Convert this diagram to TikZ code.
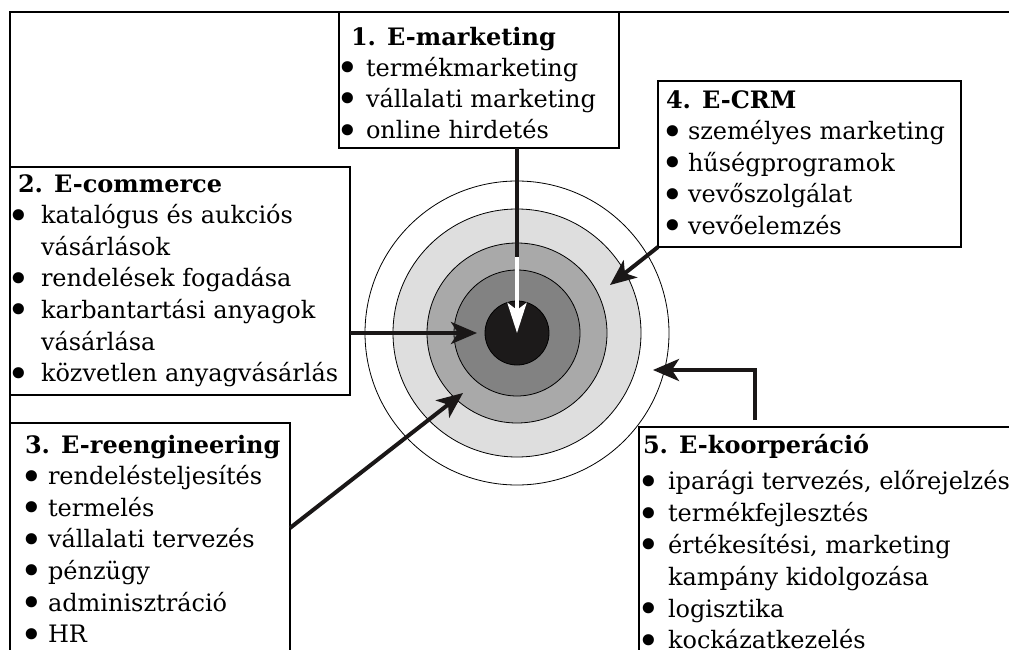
\documentclass[tikz,border=0pt]{standalone}
\usepackage{fontspec}
\usepackage{graphicx}
\setmainfont{DejaVu Serif}
\usetikzlibrary{arrows.meta}
\definecolor{arrowc}{HTML}{1A1717}
\definecolor{ringA}{HTML}{DEDEDE}
\definecolor{ringB}{HTML}{A9A9A9}
\definecolor{ringC}{HTML}{828282}
\definecolor{ringD}{HTML}{1C1A1A}
\newcommand\itm[1]{\makebox[#1][l]{\hspace*{-5pt}\raisebox{-5.5pt}{\scalebox{1.6}{•}}}}
\newcommand\fst{\rule{0pt}{20pt}}
\begin{document}
\begin{tikzpicture}[x=1pt,y=-1pt,
  box/.style={draw=black, line width=1.2pt, anchor=north west, inner sep=0pt, outer sep=0pt},
  txt/.style={anchor=north west, inner sep=0pt, outer sep=0pt, align=left, font=\fontsize{24}{31.6}\selectfont},
  ring/.style={circle, draw=black, line width=0.8pt, inner sep=0pt},
  arr/.style={line width=4pt, draw=arrowc, -{Stealth[length=26pt,width=22pt,inset=7pt]}},
  warr/.style={line width=4.5pt, draw=white, -{Stealth[length=30pt,width=19pt,inset=7pt]}},
]
\useasboundingbox (0,0) rectangle (1009,650);
% outer frame
\draw[line width=1.2pt] (1030,12) -- (10,12) -- (10,680);
% target rings
\node[ring, fill=white, minimum size=304pt] (c0) at (517,333) {};
\node[ring, fill=ringA, minimum size=248pt] (c1) at (c0) {};
\node[ring, fill=ringB, minimum size=180pt] (c2) at (c0) {};
\node[ring, fill=ringC, minimum size=126pt] (c3) at (c0) {};
\node[ring, fill=ringD, minimum size=64pt] (c4) at (c0) {};
% boxes
\node[box, fill=white, minimum width=280pt, minimum height=136pt] (b1) at (339,12) {};
\node[box, fill=white, minimum width=340pt, minimum height=228pt] (b2) at (10,167) {};
\node[box, fill=white, minimum width=280pt, minimum height=300pt] (b3) at (10,423) {};
\node[box, fill=white, minimum width=303pt, minimum height=166pt] (b4) at (658,81) {};
\node[box, fill=white, minimum width=420pt, minimum height=300pt] (b5) at (639,427) {};
% texts
\node[txt, font=\fontsize{24}{31.2}\selectfont] (t1) at (341,25) {\fst\hspace*{10pt}\textbf{1. E-marketing}\\
\itm{25pt}termékmarketing\\ \itm{25pt}vállalati marketing\\ \itm{25pt}online hirdetés};
\node[txt] (t2) at (12,172) {\fst\hspace*{6pt}\textbf{2. E-commerce}\\
\itm{29pt}katalógus és aukciós\\ \hspace*{29pt}vásárlások\\
\itm{29pt}rendelések fogadása\\
\itm{29pt}karbantartási anyagok\\ \hspace*{29pt}vásárlása\\
\itm{29pt}közvetlen anyagvásárlás};
\node[txt] (t3) at (25,433) {\fst\textbf{3. E-reengineering}\\
\itm{23pt}rendelésteljesítés\\ \itm{23pt}termelés\\ \itm{23pt}vállalati tervezés\\
\itm{23pt}pénzügy\\ \itm{23pt}adminisztráció\\ \itm{23pt}HR};
\node[txt] (t4) at (666,88) {\fst\textbf{4. E-CRM}\\
\itm{22pt}személyes marketing\\ \itm{22pt}hűségprogramok\\ \itm{22pt}vevőszolgálat\\ \itm{22pt}vevőelemzés};
\node[txt, font=\fontsize{24}{31.8}\selectfont] (t5) at (642,433) {\fst\hspace*{1pt}\textbf{5. E-koorperáció}\\[5pt]
\itm{26pt}iparági tervezés, előrejelzés\\ \itm{26pt}termékfejlesztés\\
\itm{26pt}értékesítési, marketing\\ \hspace*{26pt}kampány kidolgozása\\
\itm{26pt}logisztika\\ \itm{26pt}kockázatkezelés};
% connector points
\coordinate (w1) at (517,257);
\coordinate (t2p) at (477,333);
\coordinate (t3p) at (463,393);
\coordinate (t4p) at (610,285);
\coordinate (t5p) at (653,370);
\coordinate (s5) at ([shift={(116pt,7pt)}]b5.north west);
% arrows
\draw[line width=4pt, draw=arrowc] (b1.south -| c0) -- (w1);
\draw[warr] (w1) -- (c0.center);
\draw[arr] (b2.east |- c0) -- (t2p);
\draw[arr] ([yshift=-105pt]b3.north east) -- (t3p);
\draw[arr] (b4.south west) -- (t4p);
\draw[arr] (s5) |- (t5p);
\end{tikzpicture}
\end{document}
